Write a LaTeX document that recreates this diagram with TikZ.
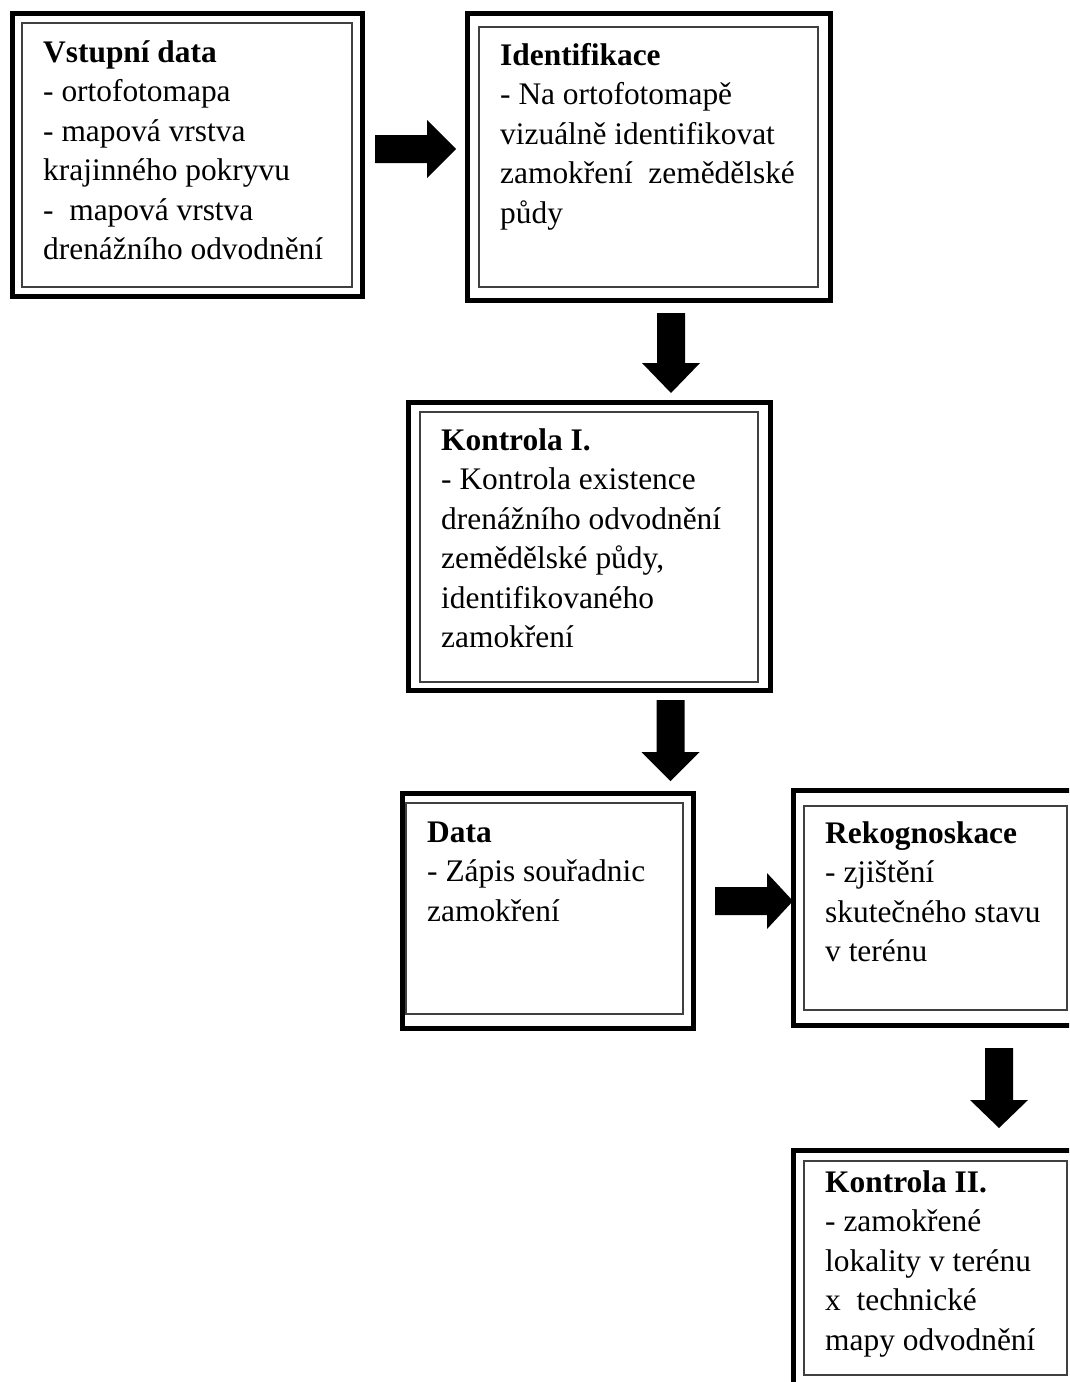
\documentclass[tikz,border=0pt]{standalone}
\usepackage{fontspec}
\setmainfont{Liberation Serif}
\usetikzlibrary{calc}
\begin{document}
\begin{tikzpicture}[x=1pt,y=-1pt,
  outerbox/.style={draw=black,line width=5pt,rectangle,inner sep=0pt,fill=none},
  innerbox/.style={draw=black!75,line width=1.3pt,rectangle,inner sep=0pt,fill=none},
  boxtext/.style={anchor=base west,inner sep=0pt,font=\fontsize{31.4}{39.5}\selectfont},
  blockfill/.style={fill=black}]
\useasboundingbox (0,0) rectangle (1069,1382);
\clip (0,0) rectangle (1069,1382);
\fill[white] (0,0) rectangle (1069,1382);
\renewcommand{\arraystretch}{1}
% Box 1
\node[outerbox,minimum width=350,minimum height=283] (b1) at (187,154.5) {};
\node[innerbox,minimum width=330,minimum height=264] (b1i) at (187,155) {};
\node[boxtext] (t1) at (43,62) {\begin{tabular}[t]{@{}l@{}}\textbf{Vstupní data}\\- ortofotomapa\\- mapová vrstva\\krajinného pokryvu\\- \ mapová vrstva\\drenážního odvodnění\end{tabular}};
% Box 2
\node[outerbox,minimum width=363,minimum height=286.5] (b2) at (648.5,156.75) {};
\node[innerbox,minimum width=339,minimum height=260] (b2i) at (648.5,157) {};
\node[boxtext] (t2) at (500,65) {\begin{tabular}[t]{@{}l@{}}\textbf{Identifikace}\\- Na ortofotomapě\\vizuálně identifikovat\\zamokření \ zemědělské\\půdy\end{tabular}};
% Box 3
\node[outerbox,minimum width=362,minimum height=288] (b3) at (589,546) {};
\node[innerbox,minimum width=338,minimum height=270] (b3i) at (589,547) {};
\node[boxtext] (t3) at (441,450) {\begin{tabular}[t]{@{}l@{}}\textbf{Kontrola I.}\\- Kontrola existence\\drenážního odvodnění\\zemědělské půdy,\\identifikovaného\\zamokření\end{tabular}};
% Box 4 Data
\node[outerbox,minimum width=291,minimum height=235] (b4) at (547.5,910.5) {};
\node[innerbox,minimum width=277,minimum height=211] (b4i) at (544.5,908.5) {};
\node[boxtext] (t4) at (427,842) {\begin{tabular}[t]{@{}l@{}}\textbf{Data}\\- Zápis souřadnic\\zamokření\end{tabular}};
% Box 5 Rekognoskace
\node[outerbox,minimum width=292,minimum height=235] (b5) at (939,907.5) {};
\node[innerbox,minimum width=263,minimum height=204] (b5i) at (935.5,908) {};
\node[boxtext] (t5) at (825,843) {\begin{tabular}[t]{@{}l@{}}\textbf{Rekognoskace}\\- zjištění\\skutečného stavu\\v terénu\end{tabular}};
% Box 6 Kontrola II
\node[outerbox,minimum width=292,minimum height=260] (b6) at (939,1280) {};
\node[innerbox,minimum width=263,minimum height=214] (b6i) at (935.5,1268) {};
\node[boxtext] (t6) at (825,1192) {\begin{tabular}[t]{@{}l@{}}\textbf{Kontrola II.}\\- zamokřené\\lokality v terénu\\x \ technické\\mapy odvodnění\end{tabular}};
% Arrow coordinates
\coordinate (a1s) at (375,149);  \coordinate (a1e) at (456,149);
\coordinate (a2s) at (671,313);  \coordinate (a2e) at (671,393);
\coordinate (a3s) at (670.5,700);\coordinate (a3e) at (670.5,781);
\coordinate (a4s) at (715,901);  \coordinate (a4e) at (793,901);
\coordinate (a5s) at (999,1048); \coordinate (a5e) at (999,1128);
% Right arrows
\fill[blockfill] ($(a1s)+(0,-14)$) -- ($(a1e)+(-29,-14)$) -- ($(a1e)+(-29,-29)$) -- (a1e) -- ($(a1e)+(-29,29)$) -- ($(a1e)+(-29,14)$) -- ($(a1s)+(0,14)$) -- cycle;
\fill[blockfill] ($(a4s)+(0,-14)$) -- ($(a4e)+(-26,-14)$) -- ($(a4e)+(-26,-28)$) -- (a4e) -- ($(a4e)+(-26,28)$) -- ($(a4e)+(-26,14)$) -- ($(a4s)+(0,14)$) -- cycle;
% Down arrows
\fill[blockfill] ($(a2s)+(-14,0)$) -- ($(a2e)+(-14,-30)$) -- ($(a2e)+(-29,-30)$) -- (a2e) -- ($(a2e)+(29,-30)$) -- ($(a2e)+(14,-30)$) -- ($(a2s)+(14,0)$) -- cycle;
\fill[blockfill] ($(a3s)+(-14,0)$) -- ($(a3e)+(-14,-29)$) -- ($(a3e)+(-29,-29)$) -- (a3e) -- ($(a3e)+(29,-29)$) -- ($(a3e)+(14,-29)$) -- ($(a3s)+(14,0)$) -- cycle;
\fill[blockfill] ($(a5s)+(-14,0)$) -- ($(a5e)+(-14,-28)$) -- ($(a5e)+(-29,-28)$) -- (a5e) -- ($(a5e)+(29,-28)$) -- ($(a5e)+(14,-28)$) -- ($(a5s)+(14,0)$) -- cycle;
\end{tikzpicture}
\end{document}
